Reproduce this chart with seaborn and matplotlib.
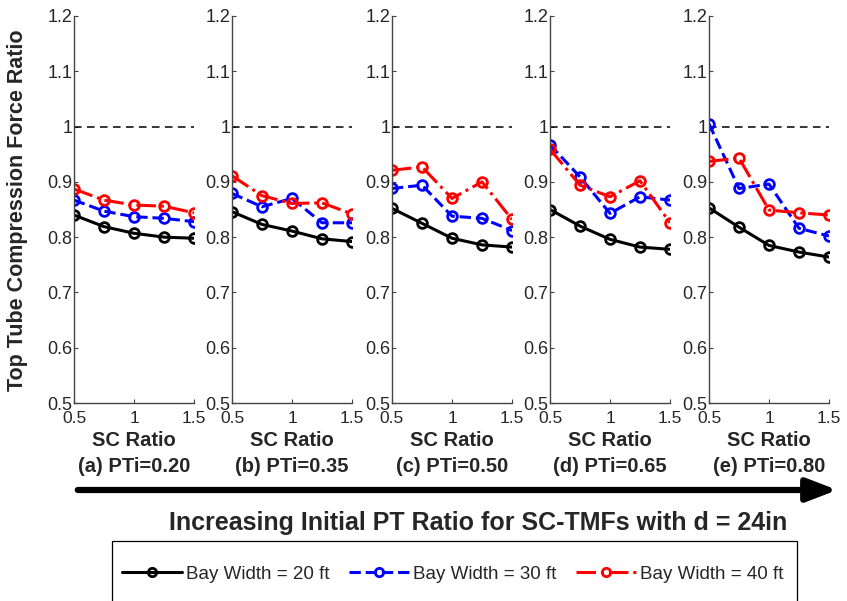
import matplotlib
matplotlib.use("Agg")
import matplotlib.pyplot as plt
import seaborn as sns
import pandas as pd
from matplotlib.patches import FancyArrowPatch, Rectangle
from matplotlib.lines import Line2D

# SC ratio values along each panel's x axis
sc_ratio = [0.5, 0.75, 1.0, 1.25, 1.5]

# Panel captions (initial post-tensioning ratio)
panel_labels = ["(a) PTi=0.20", "(b) PTi=0.35", "(c) PTi=0.50",
                "(d) PTi=0.65", "(e) PTi=0.80"]

series_names = ["Bay Width = 20 ft", "Bay Width = 30 ft", "Bay Width = 40 ft"]

# Top tube compression force ratio, one row per panel (a..e)
bay20 = [
    [0.840, 0.819, 0.807, 0.800, 0.798],
    [0.846, 0.823, 0.811, 0.797, 0.792],
    [0.852, 0.825, 0.798, 0.786, 0.782],
    [0.850, 0.820, 0.796, 0.782, 0.778],
    [0.853, 0.818, 0.785, 0.773, 0.764],
]
bay30 = [
    [0.867, 0.847, 0.837, 0.834, 0.828],
    [0.879, 0.855, 0.870, 0.826, 0.826],
    [0.888, 0.894, 0.838, 0.834, 0.812],
    [0.967, 0.909, 0.843, 0.873, 0.867],
    [1.005, 0.888, 0.896, 0.816, 0.802],
]
bay40 = [
    [0.887, 0.867, 0.858, 0.856, 0.844],
    [0.911, 0.875, 0.861, 0.862, 0.842],
    [0.921, 0.927, 0.870, 0.900, 0.832],
    [0.959, 0.894, 0.873, 0.902, 0.826],
    [0.937, 0.943, 0.849, 0.844, 0.840],
]

y_ticks = [0.5, 0.6, 0.7, 0.8, 0.9, 1.0, 1.1, 1.2]
y_tick_labels = ["0.5", "0.6", "0.7", "0.8", "0.9", "1", "1.1", "1.2"]
x_ticks = [0.5, 1.0, 1.5]
x_tick_labels = ["0.5", "1", "1.5"]

# Long-form table for seaborn
rows = []
for p, lab in enumerate(panel_labels):
    for name, vals in zip(series_names, (bay20, bay30, bay40)):
        for x, v in zip(sc_ratio, vals[p]):
            rows.append({"panel": lab, "series": name, "sc": x, "ratio": v})
df = pd.DataFrame(rows)

styles = {
    "Bay Width = 20 ft": dict(color="black", linestyle="-"),
    "Bay Width = 30 ft": dict(color="#0000ff", linestyle="--"),
    "Bay Width = 40 ft": dict(color="#ff0000", linestyle="-."),
}

sns.set_style("ticks")
plt.rcParams["font.family"] = ["Liberation Sans", "DejaVu Sans"]
plt.rcParams["xtick.direction"] = "in"
plt.rcParams["ytick.direction"] = "in"

W, H = 847, 601
fig = plt.figure(figsize=(W / 100, H / 100), dpi=100)
fig.patch.set_facecolor("white")

def fx(px):
    return px / W

def fy(py):
    return 1 - py / H

ax_left = [74, 232, 392, 550, 709]
ax_w, ax_top, ax_bot = 120, 16, 403
spine_col = "#444444"

for p, lab in enumerate(panel_labels):
    ax = fig.add_axes([fx(ax_left[p]), fy(ax_bot), ax_w / W, (ax_bot - ax_top) / H])
    sub = df[df["panel"] == lab]
    # reference line at ratio = 1
    ax.plot([0.5, 1.5], [1.0, 1.0], color="black", lw=1.1, dashes=(5, 3.5))
    for name in series_names:
        s = sub[sub["series"] == name]
        st = styles[name]
        sns.lineplot(data=s, x="sc", y="ratio", ax=ax, color=st["color"],
                     linestyle=st["linestyle"], linewidth=2.2, marker="o",
                     markersize=7, markerfacecolor="none",
                     markeredgecolor=st["color"], markeredgewidth=2.0,
                     legend=False)
    ax.set_xlim(0.5, 1.5)
    ax.set_ylim(0.5, 1.2)
    ax.set_xticks(x_ticks)
    ax.set_xticklabels(x_tick_labels)
    ax.set_yticks(y_ticks)
    ax.set_yticklabels(y_tick_labels)
    ax.set_xlabel("")
    ax.set_ylabel("")
    ax.tick_params(axis="both", length=3, width=0.8, color=spine_col)
    ax.tick_params(axis="y", pad=1, labelsize=13)
    ax.tick_params(axis="x", pad=6, labelsize=12.5)
    for side in ("top", "right"):
        ax.spines[side].set_visible(False)
    for side in ("left", "bottom"):
        ax.spines[side].set_color(spine_col)
        ax.spines[side].set_linewidth(1.0)
    ax.patch.set_alpha(0)

    cx = fx(ax_left[p] + ax_w / 2)
    fig.text(cx, fy(441), "SC Ratio", ha="center", va="center",
             fontsize=14.5, fontweight="bold")
    fig.text(cx, fy(466), lab, ha="center", va="center",
             fontsize=14.5, fontweight="bold")

fig.text(fx(18), fy(210), "Top Tube Compression Force Ratio", rotation=90,
         ha="center", va="center", fontsize=15.5, fontweight="bold")

arrow = FancyArrowPatch((fx(75), fy(490)), (fx(840), fy(490)),
                        transform=fig.transFigure,
                        arrowstyle="-|>,head_length=1.3,head_width=0.5",
                        mutation_scale=14, lw=4.5, color="black")
fig.add_artist(arrow)

fig.text(fx(478), fy(523), "Increasing Initial PT Ratio for SC-TMFs with d = 24in",
         ha="center", va="center", fontsize=18, fontweight="bold")

# Legend frame runs past the lower edge of the figure
fig.add_artist(Rectangle((fx(112), fy(630)), fx(797) - fx(112), fy(541) - fy(630),
                         transform=fig.transFigure, facecolor="white",
                         edgecolor="black", lw=0.9, zorder=1))

handles = [
    Line2D([], [], color=styles[n]["color"], linestyle=styles[n]["linestyle"],
           lw=2.2, marker="o", markersize=6, markerfacecolor="none",
           markeredgecolor=styles[n]["color"], markeredgewidth=2.0)
    for n in series_names
]
leg = fig.legend(handles, series_names, loc="center left", ncol=3,
                 bbox_to_anchor=(fx(118), fy(574)), fontsize=13.5,
                 frameon=False, handlelength=3.2, handletextpad=0.25,
                 columnspacing=1.0, borderpad=0.2, borderaxespad=0)
leg.set_zorder(2)

fig.savefig("out.png", dpi=100, facecolor="white")
